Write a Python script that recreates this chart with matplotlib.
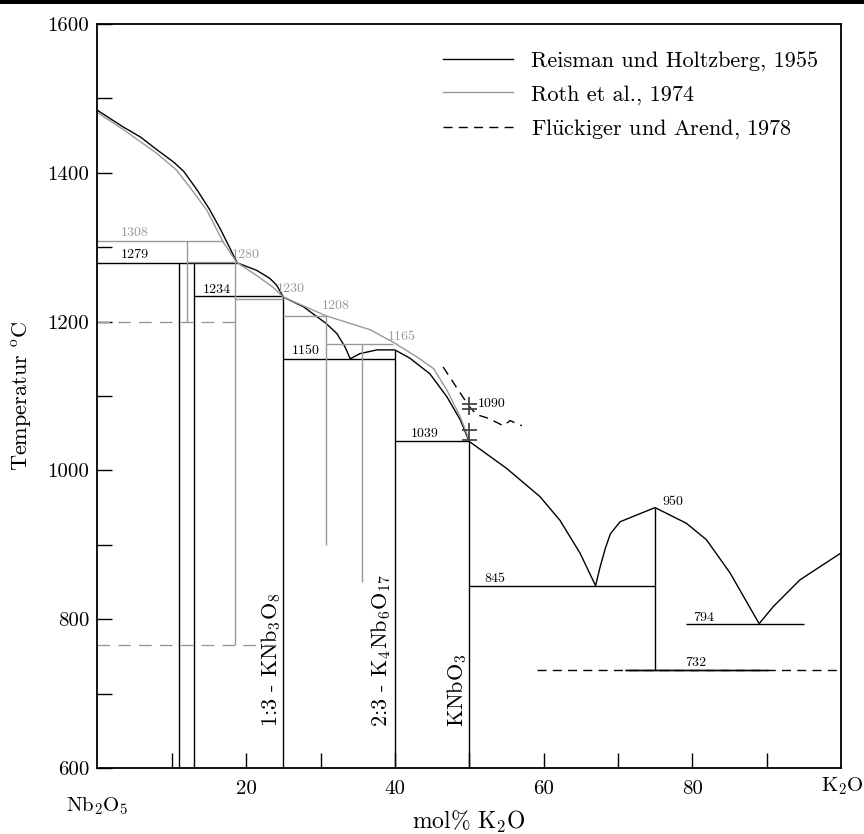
import matplotlib
matplotlib.use("Agg")
import matplotlib.pyplot as plt

plt.rcParams['font.family'] = ['cmr10', 'DejaVu Serif']
plt.rcParams['mathtext.fontset'] = 'cm'
plt.rcParams['axes.unicode_minus'] = False

# Reisman und Holtzberg 1955 - liquidus (mol% K2O, Temperatur)
reis_x = [0, 3.4, 5.8, 8.0, 10.3, 11.6, 13.4, 15.0, 16.5, 18.8, 21.4, 23.2, 24.1, 25.0, 27.7, 30.7,
          32.2, 33.3, 34.0, 35.3, 37.6, 40.0, 42.0, 44.7, 47.0, 48.8, 50.0, 55.0, 59.5, 62.2, 64.9, 67.0,
          67.6, 68.3, 69.0, 70.3, 73.0, 75.0, 79.2, 81.9, 85.1, 89.0, 90.9, 94.5, 100]
reis_t = [1484, 1462, 1448, 1431, 1414, 1402, 1377, 1352, 1325, 1279, 1269, 1258, 1249, 1233, 1220, 1198,
          1184, 1166, 1150, 1157, 1162, 1162, 1151, 1130, 1099, 1068, 1039, 1003, 965, 933, 889, 845,
          870, 895, 915, 931, 942, 950, 929, 907, 862, 794, 817, 853, 889]
# horizontale linien
reis_h_t = [1279, 1234, 1150, 1039, 845, 794, 732]
reis_h_x0 = [0, 13, 25, 40, 50, 79.1, 71]
reis_h_x1 = [18.8, 25, 40, 50, 75, 95, 90.2]
# senkrechte linien
reis_v_x = [11, 13, 25, 40, 50, 75]
reis_v_t0 = [600, 600, 600, 600, 600, 732]
reis_v_t1 = [1279, 1279, 1233, 1162, 1039, 950]

# Roth et al. 1974
roth_x = [0, 3.5, 8.0, 10.6, 12.4, 14.7, 16.9, 18.7, 21.4, 23.5, 25.0, 30.7, 36.7, 40.0, 42.9, 45.2,
          47.0, 48.8, 50.0]
roth_t = [1481, 1458, 1426, 1404, 1381, 1350, 1307, 1280, 1262, 1247, 1233, 1208, 1189, 1171, 1153, 1137,
          1108, 1072, 1041]
roth_h_t = [1308, 1280, 1230, 1208, 1170]
roth_h_x0 = [0, 12, 18.5, 25, 30.7]
roth_h_x1 = [16.9, 18.7, 25, 30.7, 39.7]
roth_v_x = [12, 18.5, 30.7, 35.6]
roth_v_t0 = [1200, 765, 900, 850]
roth_v_t1 = [1308, 1280, 1208, 1170]
roth_d_t = [1200, 765]
roth_d_x0 = [0, 0]
roth_d_x1 = [18.5, 25]

# Flückiger und Arend 1978
flue_x = [46.5, 48.2, 50.0, 51.0, 52.6, 54.6, 55.5, 57.1]
flue_t = [1139, 1113, 1086, 1075, 1070, 1060, 1067, 1060]
flue_h_t = [732]
flue_h_x0 = [59.1]
flue_h_x1 = [100]
# fehlerbalken bei 50 mol%
err_x = [50, 50]
err_lo = [1074, 1041]
err_hi = [1099, 1064]
err_bars = [1089, 1082, 1054, 1041]

# beschriftungen
num_text = ['1308', '1279', '1280', '1234', '1230', '1208', '1165', '1150', '1090', '1039',
            '950', '845', '794', '732']
num_x = [5.0, 5.0, 20.0, 16.0, 26.0, 32.0, 40.9, 28.0, 53.0, 44.0, 77.4, 53.5, 81.6, 80.5]
num_t = [1319, 1289, 1289, 1243, 1244, 1221, 1180, 1160, 1089, 1049, 958, 854, 802, 741]
num_grey = [True, False, True, False, True, True, True, False, False, False, False, False, False, False]

comp_text = [r'1:3 - KNb$_3$O$_8$', r'2:3 - K$_4$Nb$_6$O$_{17}$', r'KNbO$_3$']
comp_x = [23.3, 38.1, 48.4]

xtick_pos = [10, 20, 30, 40, 50, 60, 70, 80, 90]
xtick_lab = ['', '20', '', '40', '', '60', '', '80', '']
ytick_pos = [600, 700, 800, 900, 1000, 1100, 1200, 1300, 1400, 1500, 1600]
ytick_lab = ['600', '', '800', '', '1000', '', '1200', '', '1400', '', '1600']

GREY = '#999999'

fig = plt.figure(figsize=(8.64, 8.34), dpi=100)
ax = fig.add_axes([0.1128, 0.0791, 0.8605, 0.8921])

# Reisman
l1, = ax.plot(reis_x, reis_t, color='black', lw=1.0, label='Reisman und Holtzberg, 1955')
ax.hlines(reis_h_t, reis_h_x0, reis_h_x1, color='black', lw=1.0)
ax.vlines(reis_v_x, reis_v_t0, reis_v_t1, color='black', lw=1.0)

# Roth
l2, = ax.plot(roth_x, roth_t, color=GREY, lw=1.0, label='Roth et al., 1974')
ax.hlines(roth_h_t, roth_h_x0, roth_h_x1, color=GREY, lw=1.0)
ax.vlines(roth_v_x, roth_v_t0, roth_v_t1, color=GREY, lw=1.0)
for t, a, b in zip(roth_d_t, roth_d_x0, roth_d_x1):
    ax.plot([a, b], [t, t], color=GREY, lw=1.0, dashes=(9, 6))

# Flückiger
l3, = ax.plot(flue_x, flue_t, color='black', lw=1.0, dashes=(6.5, 4.5),
              label=r'Fl$\ddot{\mathrm{u}}$ckiger und Arend, 1978')
for t, a, b in zip(flue_h_t, flue_h_x0, flue_h_x1):
    ax.plot([a, b], [t, t], color='black', lw=1.0, dashes=(6.5, 4.5))
# solides stück 732 nochmal drüber
ax.hlines(reis_h_t[-1:], reis_h_x0[-1:], reis_h_x1[-1:], color='black', lw=1.0)
ax.vlines(err_x, err_lo, err_hi, color='#444444', lw=1.3)
ax.hlines(err_bars, 49.0, 51.0, color='#444444', lw=1.3)

for s, x, t, g in zip(num_text, num_x, num_t, num_grey):
    ax.text(x, t, s, fontsize=10, color=GREY if g else 'black', ha='center', va='center')

for s, x in zip(comp_text, comp_x):
    ax.text(x, 655, s, fontsize=16, rotation=90, ha='center', va='bottom')

ax.set_xlim(0, 100)
ax.set_ylim(600, 1600)
ax.set_xticks(xtick_pos)
ax.set_xticklabels(xtick_lab)
ax.set_yticks(ytick_pos)
ax.set_yticklabels(ytick_lab)
ax.tick_params(direction='in', length=10.5, width=1.0, labelsize=15)
ax.tick_params(axis='x', pad=9)
ax.tick_params(axis='y', pad=6)
for sp in ax.spines.values():
    sp.set_linewidth(1.3)

ax.text(0, -0.051, r'Nb$_2$O$_5$', transform=ax.get_xaxis_transform(), fontsize=15, ha='center', va='center')
ax.text(100.2, -0.024, r'K$_2$O', transform=ax.get_xaxis_transform(), fontsize=15, ha='center', va='center')
ax.text(0.5, -0.073, r'mol% K$_2$O', transform=ax.transAxes, fontsize=17, ha='center', va='center')
ax.text(-0.1015, 0.5, r'Temperatur $^{\rm o}$C', transform=ax.transAxes, fontsize=16, rotation=90,
        ha='center', va='center')

ax.legend(handles=[l1, l2, l3], loc='upper right', bbox_to_anchor=(0.969, 0.963), frameon=False,
          fontsize=16, handlelength=3.15, handletextpad=0.8, labelspacing=0.59, borderpad=0, borderaxespad=0)

# schwarzer balken oben
fig.add_artist(plt.Rectangle((0, 1 - 4 / 834), 1, 4 / 834, transform=fig.transFigure, color='black', lw=0))

fig.savefig('out.png', dpi=100)
